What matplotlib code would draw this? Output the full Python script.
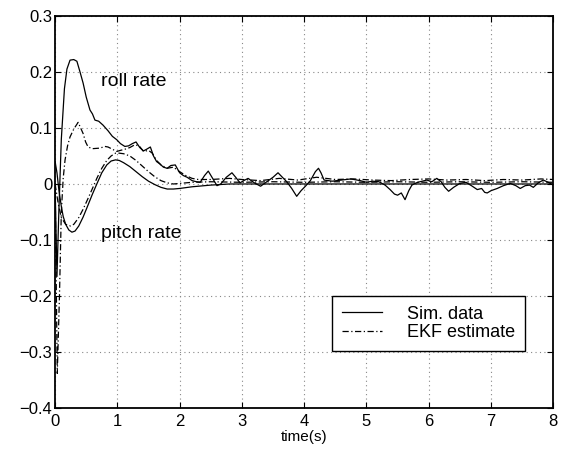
import numpy as np
import matplotlib
matplotlib.use('Agg')
import matplotlib.pyplot as plt

plt.rcParams['font.family'] = ['Liberation Sans', 'DejaVu Sans']

# Roll rate, simulated data
roll_sim_t = [0, 0.03, 0.06, 0.1, 0.15, 0.19, 0.24, 0.3, 0.35, 0.4, 0.45, 0.5, 0.56, 0.6,
              0.64, 0.7, 0.77, 0.85, 0.92, 0.99, 1.05, 1.12, 1.18, 1.24, 1.3, 1.36, 1.42,
              1.47, 1.53, 1.58, 1.63, 1.68, 1.74, 1.8, 1.86, 1.93, 2.0, 2.06, 2.12, 2.2,
              2.27, 2.33, 2.4, 2.46, 2.53, 2.6, 2.66, 2.75, 2.84, 2.9, 2.97, 3.03, 3.1,
              3.2, 3.3, 3.4, 3.5, 3.58, 3.65, 3.72, 3.8, 3.88, 3.95, 4.02, 4.1, 4.18,
              4.23, 4.27, 4.32, 4.45, 4.6, 4.75, 4.9, 5.0, 5.1, 5.2, 5.3, 5.38, 5.45,
              5.5, 5.56, 5.62, 5.68, 5.73, 5.8, 5.86, 5.97, 6.05, 6.13, 6.2, 6.26, 6.32,
              6.4, 6.5, 6.6, 6.7, 6.78, 6.85, 6.9, 6.94, 7.0, 7.1, 7.2, 7.31, 7.4, 7.47,
              7.55, 7.62, 7.68, 7.76, 7.84, 7.92, 8.0]
roll_sim = [0.0, -0.165, -0.05, 0.08, 0.17, 0.205, 0.221, 0.222, 0.219, 0.2, 0.18, 0.155,
            0.132, 0.125, 0.114, 0.112, 0.105, 0.095, 0.085, 0.079, 0.072, 0.067, 0.068,
            0.072, 0.075, 0.065, 0.059, 0.062, 0.066, 0.05, 0.04, 0.036, 0.03, 0.028,
            0.033, 0.034, 0.02, 0.015, 0.012, 0.006, 0.004, 0.003, 0.015, 0.023, 0.01,
            -0.003, 0.0, 0.012, 0.02, 0.012, 0.002, 0.006, 0.01, 0.002, -0.004, 0.004,
            0.012, 0.02, 0.012, 0.004, -0.008, -0.022, -0.012, -0.004, 0.006, 0.022,
            0.028, 0.02, 0.007, 0.005, 0.007, 0.009, 0.006, 0.003, 0.005, 0.004, -0.002,
            -0.01, -0.018, -0.02, -0.016, -0.028, -0.012, -0.002, 0.002, 0.004, 0.007,
            0.004, 0.01, 0.004, -0.006, -0.013, -0.006, 0.001, 0.003, -0.004, -0.01,
            -0.008, -0.015, -0.016, -0.012, -0.008, -0.003, 0.001, -0.003, -0.008,
            -0.003, -0.002, -0.006, 0.002, 0.007, 0.003, -0.002]

# Pitch rate, simulated data
pitch_sim_t = [0, 0.03, 0.06, 0.1, 0.13, 0.17, 0.22, 0.27, 0.32, 0.38, 0.45, 0.52, 0.6,
               0.67, 0.75, 0.83, 0.9, 0.97, 1.03, 1.1, 1.2, 1.3, 1.4, 1.5, 1.6, 1.7, 1.8,
               1.9, 2.0, 2.2, 2.5, 2.8, 8.0]
pitch_sim = [0.04, 0.02, -0.01, -0.04, -0.058, -0.072, -0.082, -0.086, -0.084, -0.075,
             -0.059, -0.04, -0.018, 0.0, 0.02, 0.034, 0.041, 0.043, 0.042, 0.038, 0.031,
             0.022, 0.013, 0.005, -0.001, -0.006, -0.009, -0.009, -0.008, -0.005,
             -0.002, 0.0, 0.0]

# Roll rate, EKF estimate
roll_ekf_t = [0, 0.035, 0.07, 0.1, 0.13, 0.16, 0.2, 0.24, 0.3, 0.37, 0.41, 0.45, 0.49,
              0.53, 0.6, 0.72, 0.8, 0.85, 0.92, 0.99, 1.05, 1.12, 1.2, 1.28, 1.35, 1.42,
              1.5, 1.56, 1.63, 1.7, 1.8, 1.9, 2.0, 2.1, 2.2, 2.3, 2.5, 2.8, 3.0, 3.3,
              3.6, 3.9, 4.2, 4.5, 4.8, 5.1, 5.4, 5.7, 6.0, 6.3, 6.6, 6.9, 7.2, 7.5, 7.8, 8.0]
roll_ekf = [0.0, -0.338, -0.2, -0.05, 0.01, 0.043, 0.068, 0.084, 0.098, 0.11, 0.1, 0.09,
            0.075, 0.066, 0.063, 0.064, 0.067, 0.066, 0.062, 0.058, 0.06, 0.062, 0.065,
            0.07, 0.068, 0.058, 0.06, 0.055, 0.042, 0.034, 0.028, 0.03, 0.022, 0.015,
            0.01, 0.008, 0.008, 0.01, 0.008, 0.006, 0.01, 0.007, 0.012, 0.008, 0.009,
            0.007, 0.006, 0.008, 0.009, 0.007, 0.008, 0.006, 0.008, 0.007, 0.009, 0.008]

# Pitch rate, EKF estimate
pitch_ekf_t = [0, 0.05, 0.1, 0.17, 0.25, 0.3, 0.38, 0.45, 0.52, 0.6, 0.67, 0.75, 0.83,
               0.9, 0.97, 1.03, 1.1, 1.2, 1.3, 1.4, 1.5, 1.6, 1.7, 1.8, 1.9, 2.0, 2.2,
               2.5, 3.0, 3.5, 4.0, 4.5, 5.0, 5.5, 6.0, 6.5, 7.0, 7.5, 8.0]
pitch_ekf = [0.0, -0.035, -0.06, -0.072, -0.075, -0.072, -0.06, -0.045, -0.028, -0.008,
             0.01, 0.028, 0.042, 0.05, 0.055, 0.055, 0.054, 0.05, 0.042, 0.032, 0.022,
             0.013, 0.006, 0.002, 0.0, 0.001, 0.003, 0.004, 0.003, 0.004, 0.003, 0.004,
             0.003, 0.004, 0.003, 0.004, 0.003, 0.004, 0.003]

y_ticks = [-0.4, -0.3, -0.2, -0.1, 0, 0.1, 0.2, 0.3]
y_labels = ['\u22120.4', '\u22120.3', '\u22120.2', '\u22120.1', '0', '0.1', '0.2', '0.3']

fig = plt.figure(figsize=(5.68, 4.53), dpi=100)
ax = fig.add_axes([0.097, 0.099, 0.877, 0.866])

ax.plot(roll_sim_t, roll_sim, color='black', lw=0.9, label='Sim. data')
ax.plot(roll_ekf_t, roll_ekf, color='black', lw=0.9, ls='-.', dashes=(5, 2, 1, 2),
        label='EKF estimate')
ax.plot(pitch_sim_t, pitch_sim, color='black', lw=0.9)
ax.plot(pitch_ekf_t, pitch_ekf, color='black', lw=0.9, ls='-.', dashes=(5, 2, 1, 2))

ax.text(0.74, 0.182, 'roll rate', fontsize=14, va='center', ha='left')
ax.text(0.74, -0.0875, 'pitch rate', fontsize=14, va='center', ha='left')

ax.set_xlim(0, 8)
ax.set_ylim(-0.4, 0.3)
ax.set_xticks(np.arange(0, 9, 1))
ax.set_yticks(y_ticks)
ax.set_yticklabels(y_labels)
ax.tick_params(direction='in', top=True, right=True, labelsize=12, length=4, width=0.8)
ax.tick_params(axis='y', pad=2)
ax.tick_params(axis='x', pad=4)
ax.grid(True, ls=(0, (1, 3)), color='#888888', lw=0.8)
for s in ax.spines.values():
    s.set_linewidth(1.3)
ax.set_xlabel('time(s)', fontsize=11, labelpad=1)

leg = ax.legend(loc='lower right', bbox_to_anchor=(0.944, 0.145), borderaxespad=0,
                fontsize=13, fancybox=False, framealpha=1, edgecolor='black',
                handlelength=2.2, handletextpad=1.4, labelspacing=0.1, borderpad=0.55)
leg.get_frame().set_linewidth(1.0)

fig.savefig('out.png', dpi=100)
